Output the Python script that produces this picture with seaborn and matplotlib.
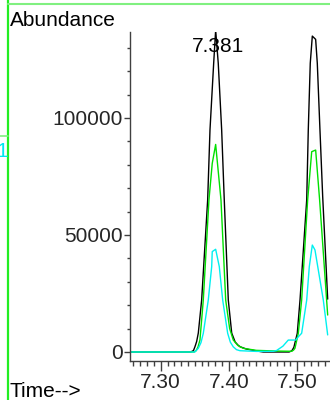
import matplotlib
matplotlib.use("Agg")
import matplotlib.pyplot as plt
import matplotlib.ticker as mticker
from matplotlib.lines import Line2D
import numpy as np
import pandas as pd
import seaborn as sns

# ---- data ----
tic_time = [7.2551, 7.3440, 7.3480, 7.3502, 7.3527, 7.3551, 7.3600, 7.3688, 7.3722,
            7.3776, 7.3805, 7.3843, 7.3893, 7.3931, 7.3990, 7.4040, 7.4090, 7.4130,
            7.4161, 7.4250, 7.4381, 7.4500, 7.4880, 7.4920, 7.4950, 7.5000, 7.5040,
            7.5138, 7.5161, 7.5190, 7.5220, 7.5269, 7.5293, 7.5332, 7.5372, 7.5445]
tic_abund = [0, 0, 600, 2260, 4500, 8100, 22200, 65000, 94900,
             123400, 137500, 123400, 94900, 65000, 22200, 8100, 4300, 3000,
             2260, 1300, 550, 0, 0, 500, 2000, 8000, 22200,
             65000, 94900, 123400, 135000, 133600, 123400, 94900, 66400, 22600]

ion1_time = [7.2551, 7.3490, 7.3517, 7.3545, 7.3575, 7.3624, 7.3707, 7.3755, 7.3805,
             7.3883, 7.3952, 7.4010, 7.4063, 7.4130, 7.4209, 7.4400, 7.4700, 7.4918,
             7.4945, 7.4966, 7.5015, 7.5064, 7.5152, 7.5211, 7.5269, 7.5327, 7.5445]
ion1_abund = [0, 0, 500, 2000, 5100, 22200, 65000, 80600, 88700,
              65000, 22200, 10000, 5100, 2800, 1580, 700, 400, 300,
              800, 1580, 8000, 22200, 65000, 85600, 86300, 65000, 15800]

ion2_time = [7.2551, 7.3500, 7.3551, 7.3590, 7.3624, 7.3697, 7.3747, 7.3755, 7.3805,
             7.3858, 7.3908, 7.3981, 7.4020, 7.4063, 7.4110, 7.4161, 7.4400, 7.4650,
             7.4698, 7.4790, 7.4868, 7.4977, 7.5015, 7.5064, 7.5138, 7.5176, 7.5220,
             7.5259, 7.5381, 7.5445]
ion2_abund = [0, 0, 1580, 4000, 8000, 22200, 36500, 42900, 43900,
              36500, 22200, 8000, 4200, 2200, 1000, 550, 250, 300,
              650, 2500, 5100, 5100, 6500, 8000, 22200, 36500, 45700,
              43600, 22200, 7300]

series_names = ["TIC", "Ion 1", "Ion 2"]
series_colors = ["#000000", "#00e000", "#00f0f0"]

peak_label = "7.381"
peak_label_time = 7.3836
peak_label_abund = 128300

y_ticks = [0, 50000, 100000]
x_ticks = [7.30, 7.40, 7.50]
x_tick_labels = ["7.30", "7.40", "7.50"]

df = pd.concat([
    pd.DataFrame({"time": tic_time, "abund": tic_abund, "trace": series_names[0]}),
    pd.DataFrame({"time": ion1_time, "abund": ion1_abund, "trace": series_names[1]}),
    pd.DataFrame({"time": ion2_time, "abund": ion2_abund, "trace": series_names[2]}),
], ignore_index=True)

# ---- style ----
sns.set_style("ticks")
plt.rcParams["font.family"] = ["Liberation Sans", "DejaVu Sans"]
FS = 15

fig = plt.figure(figsize=(3.3, 4.0), dpi=100)
ax = fig.add_axes([130 / 330, 39 / 400, 200 / 330, 329 / 400])

sns.lineplot(data=df, x="time", y="abund", hue="trace", hue_order=series_names,
             palette=dict(zip(series_names, series_colors)), sort=False,
             estimator=None, linewidth=1.0, legend=False, ax=ax)

ax.set_xlim(7.2551, 7.5479)
ax.set_ylim(-3850, 136750)
for s in ["top", "right"]:
    ax.spines[s].set_visible(False)
for s in ["left", "bottom"]:
    ax.spines[s].set_color("#404040")
    ax.spines[s].set_linewidth(1.0)

ax.set_xticks(x_ticks)
ax.set_xticklabels(x_tick_labels)
ax.xaxis.set_minor_locator(mticker.MultipleLocator(0.01))
ax.set_yticks(y_ticks)
ax.yaxis.set_major_formatter(mticker.FuncFormatter(lambda v, p: f"{int(v)}"))
ax.yaxis.set_minor_locator(mticker.MultipleLocator(10000))
ax.tick_params(axis="x", which="major", length=7.2, width=1, color="#404040",
               labelsize=FS, pad=1.2, direction="out")
ax.tick_params(axis="x", which="minor", length=3.6, width=1, color="#404040", direction="out")
ax.tick_params(axis="y", which="major", length=4.3, width=1, color="#404040",
               labelsize=FS, pad=1.0, direction="out")
ax.tick_params(axis="y", which="minor", length=2.0, width=1, color="#404040", direction="out")
ax.set_xlabel("")
ax.set_ylabel("")

ax.text(peak_label_time, peak_label_abund, peak_label, ha="center", va="baseline",
        fontsize=FS, color="black", clip_on=False)

fig.text(9.5 / 330, 1 - 26 / 400, "Abundance", ha="left", va="baseline",
         fontsize=FS, color="black")
fig.text(10 / 330, 1 - 396.7 / 400, "Time-->", ha="left", va="baseline",
         fontsize=FS, color="black")
fig.text(-3.5 / 330, 1 - 157 / 400, "1", ha="left", va="baseline",
         fontsize=FS, color="#00e8f0")

# window frame decorations
fig.add_artist(Line2D([8.3 / 330, 8.3 / 330], [0, 1], color="#22ee22", lw=1.6,
                      transform=fig.transFigure))
fig.add_artist(Line2D([8.3 / 330, 1], [1 - 4.4 / 400, 1 - 4.4 / 400], color="#80f080",
                      lw=1.5, transform=fig.transFigure))
fig.add_artist(Line2D([0, 8.3 / 330], [1 - 135.7 / 400, 1 - 135.7 / 400], color="#80f080",
                      lw=1.2, transform=fig.transFigure))

fig.savefig("out.png", dpi=100)
